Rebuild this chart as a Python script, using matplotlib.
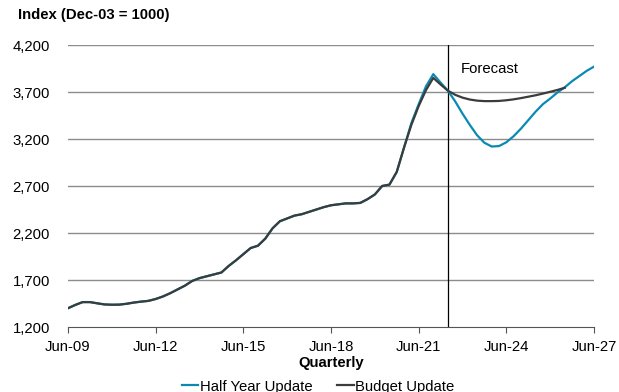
import numpy as np
import matplotlib.pyplot as plt

plt.rcParams['font.family'] = ['Liberation Sans', 'DejaVu Sans']

# quarters counted from Jun-09
hist_q = list(range(0, 53))
hist_common = [1400, 1435, 1465, 1465, 1452, 1440, 1437, 1438, 1447, 1460,
               1470, 1478, 1498, 1525, 1560, 1600, 1640, 1690, 1720, 1740,
               1760, 1780, 1850, 1910, 1975, 2040, 2065, 2140, 2250, 2325,
               2355, 2385, 2400, 2425, 2450, 2475, 2495, 2505, 2515, 2515,
               2520, 2560, 2610, 2700, 2715, 2850, 3110]
hist_hyu_end = [3370, 3570, 3760, 3890, 3800, 3714]
hist_bud_end = [3350, 3550, 3720, 3850, 3780, 3714]

fc_hyu = [3600, 3470, 3350, 3240, 3160, 3120, 3125, 3165, 3230, 3310,
          3400, 3490, 3570, 3630, 3695, 3750, 3815, 3870, 3925, 3970]
fc_bud = [3670, 3640, 3620, 3608, 3603, 3603, 3605, 3612, 3622, 3635,
          3650, 3665, 3683, 3702, 3722, 3745]

hyu = hist_common + hist_hyu_end + fc_hyu
bud = hist_common + hist_bud_end + fc_bud
hyu_q = list(range(len(hyu)))
bud_q = list(range(len(bud)))

tick_q = [0, 12, 24, 36, 48, 60, 72]
tick_lab = ['Jun-09', 'Jun-12', 'Jun-15', 'Jun-18', 'Jun-21', 'Jun-24', 'Jun-27']
y_ticks = [1200, 1700, 2200, 2700, 3200, 3700, 4200]
forecast_q = 52

blue = '#0a8ab2'
dark = '#3a3d3c'
fs = 10.7

fig = plt.figure(figsize=[6.19, 3.92], dpi=100)
ax = fig.add_axes([0.1099, 0.1658, 0.8497, 0.7194])

for y in y_ticks[1:]:
    ax.axhline(y, color='#8c8c8c', lw=1, zorder=1)

ax.plot(hyu_q, hyu, color=blue, lw=1.6, label='Half Year Update', zorder=3)
ax.plot(bud_q, bud, color=dark, lw=1.6, label='Budget Update', zorder=4)
ax.axvline(forecast_q, color='black', lw=0.9, zorder=2)
ax.text(forecast_q + 1.7, 3950, 'Forecast', fontsize=fs, va='center')

ax.set_xlim(0, 72)
ax.set_ylim(1200, 4200)
ax.set_xticks(tick_q)
ax.set_xticklabels(tick_lab, fontsize=fs)
ax.set_yticks(y_ticks)
ax.set_yticklabels(['{:,}'.format(v) for v in y_ticks], fontsize=fs)
ax.tick_params(axis='y', length=0, pad=13)
ax.tick_params(axis='x', length=4, direction='out', color='#555555', pad=5)
for s in ['top', 'right', 'left']:
    ax.spines[s].set_visible(False)
ax.spines['bottom'].set_color('#555555')

ax.set_xlabel('Quarterly', fontsize=fs, fontweight='bold', labelpad=2)
fig.text(18 / 619, 1 - 15 / 392, 'Index (Dec-03 = 1000)', fontsize=fs,
         fontweight='bold', va='center', ha='left')

fig.legend(loc='center', bbox_to_anchor=(0.514, 0.014), ncol=2, frameon=False,
           fontsize=fs, handlelength=1.1, handletextpad=0.1, columnspacing=1.7)

fig.savefig('out.png', dpi=100)
